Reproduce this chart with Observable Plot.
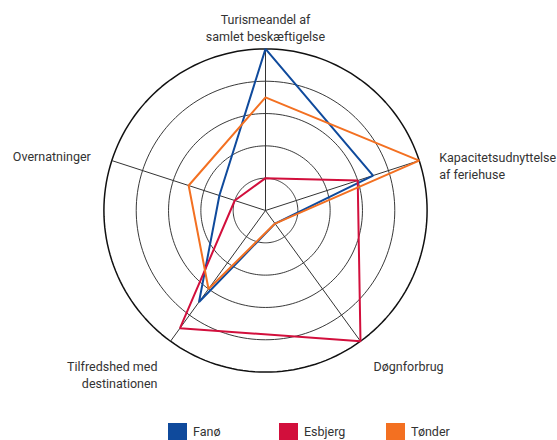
<!DOCTYPE html>
<html><head><meta charset="utf-8">
<script src="https://cdn.jsdelivr.net/npm/d3@7"></script>
<script src="https://cdn.jsdelivr.net/npm/@observablehq/plot@0.6"></script>
<style>
body{margin:0;background:#fff;font-family:Roboto, sans-serif;}
#wrap{position:relative;width:557px;height:440px;overflow:hidden;}
#legend{position:absolute;top:0;left:0;width:557px;height:440px;pointer-events:none;}
.item{position:absolute;display:flex;align-items:center;font-size:12.5px;line-height:15px;color:#333;}
.sw{width:19px;height:17px;margin-right:6px;}
</style></head><body><div id="wrap"><div id="chart"></div><div id="legend"></div></div>
<script>
// ---- data ----
const axes = ["Turismeandel af\nsamlet beskæftigelse", "Kapacitetsudnyttelse\naf feriehuse", "Døgnforbrug", "Tilfredshed med\ndestinationen", "Overnatninger"];
const series = ["Fanø", "Esbjerg", "Tønder"];
const fano    = [5, 3.5, 0.5, 3.5, 1.5];
const esbjerg = [1, 3, 5, 4.5, 1];
const tonder  = [3.5, 5, 0.5, 3, 2.5];
const rings = [1, 2, 3, 4, 5];

// ---- styles / layout ----
const colors = ["#0f4a9c", "#d20f3c", "#f37021"];
const W = 557, H = 440, cx = 265, cy = 210, rad = 161.6;
const labelCfg = [
  {dx: 0, dy: -22, anchor: "middle"},
  {dx: 20, dy: 4, anchor: "start"},
  {dx: 13, dy: 24, anchor: "start"},
  {dx: -13, dy: 33, anchor: "end"},
  {dx: -21, dy: -5, anchor: "end"}
];
const legendLeft = [168, 279, 386];

const maxR = d3.max(rings);
const ang = i => i * 2 * Math.PI / axes.length;
const px = (v, i) => v * Math.sin(ang(i));
const py = (v, i) => v * Math.cos(ang(i));

const values = [fano, esbjerg, tonder];
const rows = series.flatMap((s, k) => values[k].map((v, i) => ({series: s, axis: i, value: v})));
const ringPts = rings.flatMap(r => d3.range(0, 361, 2).map(deg => ({ring: r, x: r * Math.sin(deg * Math.PI / 180), y: r * Math.cos(deg * Math.PI / 180)})));
const axisIdx = axes.map((a, i) => ({label: a, i}));

const textStyle = {fill: "#333", fontSize: 12.5, fontFamily: "Roboto, sans-serif", lineHeight: 1.36, lineAnchor: "middle"};

const plot = Plot.plot({
  width: W, height: H,
  x: {domain: [-maxR, maxR], range: [cx - rad, cx + rad], axis: null},
  y: {domain: [-maxR, maxR], range: [cy + rad, cy - rad], axis: null},
  color: {domain: series, range: colors},
  style: {background: "#fff", fontFamily: "Roboto, sans-serif"},
  marks: [
    Plot.line(ringPts.filter(d => d.ring < maxR), {x: "x", y: "y", z: "ring", stroke: "#222", strokeWidth: 0.9}),
    Plot.line(ringPts.filter(d => d.ring === maxR), {x: "x", y: "y", z: "ring", stroke: "#111", strokeWidth: 1.5}),
    Plot.link(axisIdx, {x1: () => 0, y1: () => 0, x2: d => px(maxR, d.i), y2: d => py(maxR, d.i), stroke: "#333", strokeWidth: 1}),
    Plot.line(rows, {x: d => px(d.value, d.axis), y: d => py(d.value, d.axis), z: "series", stroke: "series", strokeWidth: 2, curve: "linear-closed", strokeLinejoin: "miter"}),
    ...axisIdx.map((d, k) => Plot.text([d], {x: e => px(maxR, e.i), y: e => py(maxR, e.i), text: "label", dx: labelCfg[k].dx, dy: labelCfg[k].dy, textAnchor: labelCfg[k].anchor, ...textStyle}))
  ]
});
document.getElementById("chart").appendChild(plot);

const leg = document.getElementById("legend");
series.forEach((s, k) => {
  const it = document.createElement("div");
  it.className = "item";
  it.style.left = legendLeft[k] + "px";
  it.style.top = "423px";
  it.innerHTML = `<div class="sw" style="background:${colors[k]}"></div><span>${s}</span>`;
  leg.appendChild(it);
});
</script></body></html>
